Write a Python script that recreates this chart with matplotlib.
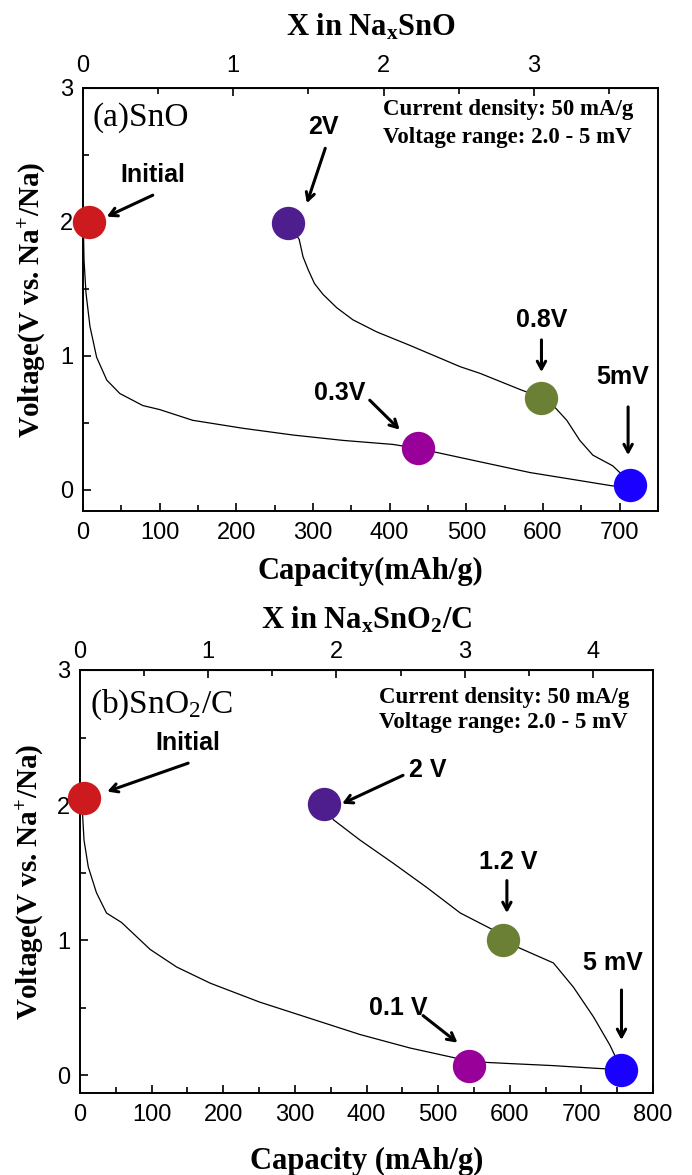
import matplotlib
matplotlib.use("Agg")
import matplotlib.pyplot as plt
from matplotlib.ticker import MultipleLocator

plt.rcParams['font.family'] = ['Liberation Sans', 'DejaVu Sans']
plt.rcParams['mathtext.fontset'] = 'custom'
plt.rcParams['mathtext.default'] = 'regular'

# ---- data ----
# (a) SnO
a_dis_cap = [0.4, 1.3, 3.9, 9.1, 17.8, 31, 48, 78, 100, 143, 209, 274, 339, 404, 437, 518, 583, 648, 691, 713]
a_dis_volt = [2.0, 1.72, 1.47, 1.22, 0.99, 0.82, 0.72, 0.63, 0.60, 0.52, 0.46, 0.41, 0.37, 0.34, 0.31, 0.21, 0.13, 0.07, 0.03, 0.03]
a_chg_cap = [268, 282, 287, 294, 302, 313, 331, 352, 383, 426, 492, 518, 570, 598, 615, 631, 648, 665, 691, 713]
a_chg_volt = [1.99, 1.87, 1.74, 1.64, 1.54, 1.46, 1.36, 1.27, 1.18, 1.08, 0.92, 0.87, 0.75, 0.69, 0.62, 0.52, 0.37, 0.26, 0.18, 0.06]
a_pt_cap = [8, 268, 437, 598, 713]
a_pt_volt = [2.0, 1.99, 0.31, 0.69, 0.04]
a_pt_labels = ['Initial', '2V', '0.3V', '0.8V', '5mV']

# (b) SnO2/C
b_dis_cap = [2.3, 5.6, 11.6, 23, 37, 58, 74, 98, 135, 182, 251, 321, 391, 461, 521, 543, 600, 660, 720, 756]
b_dis_volt = [2.05, 1.74, 1.54, 1.35, 1.20, 1.13, 1.05, 0.93, 0.80, 0.68, 0.54, 0.42, 0.30, 0.20, 0.13, 0.10, 0.085, 0.07, 0.05, 0.04]
b_chg_cap = [340, 354, 391, 437, 484, 531, 575, 591, 614, 661, 689, 717, 740, 756]
b_chg_volt = [2.01, 1.89, 1.74, 1.57, 1.39, 1.20, 1.08, 1.00, 0.94, 0.83, 0.65, 0.43, 0.22, 0.04]
b_pt_cap = [5.6, 340, 543, 591, 756]
b_pt_volt = [2.05, 2.01, 0.07, 1.00, 0.04]
b_pt_labels = ['Initial', '2 V', '0.1 V', '1.2 V', '5 mV']

# capacity of one Na per formula unit (mAh/g)
a_per_na = 196.0
b_per_na = 179.0

pt_colors = ['#CC1A1E', '#4E1E8E', '#990099', '#6B8035', '#1A00FF']

# label positions: (text x, text y, tail x, tail y, head x, head y)
a_notes = [(91, 2.35, 91, 2.20, 31, 2.04),
           (313, 2.71, 316, 2.55, 292, 2.14),
           (335, 0.72, 374, 0.67, 413, 0.45),
           (598, 1.27, 598, 1.12, 598, 0.88),
           (704, 0.84, 711, 0.62, 711, 0.26)]
b_notes = [(151, 2.46, 151, 2.31, 38, 2.10),
           (486, 2.26, 451, 2.22, 366, 2.01),
           (444, 0.50, 479, 0.44, 527, 0.24),
           (598, 1.58, 596, 1.44, 596, 1.20),
           (744, 0.83, 756, 0.63, 756, 0.26)]

serif = 'Liberation Serif'

fig = plt.figure(figsize=(6.92, 11.75), dpi=100)
ax1 = fig.add_axes([83/692, 1-511/1175, 575/692, 423/1175])
ax2 = fig.add_axes([80/692, 1-1093/1175, 573/692, 423/1175])


def panel(ax, dis_c, dis_v, chg_c, chg_v, pc, pv, plabels, notes, per_na,
          xmax, ymin, name, toplabel, xlabel, toppad, titlepad, xl_y, name_y, info_y):
    ax.plot(dis_c, dis_v, color='black', lw=0.9)
    ax.plot(chg_c, chg_v, color='black', lw=0.9)
    for c, v, col in zip(pc, pv, pt_colors):
        ax.plot(c, v, 'o', ms=24, color=col, mec='none', clip_on=False, zorder=5)
    for lab, (tx, ty, sx, sy, hx, hy) in zip(plabels, notes):
        ax.text(tx, ty, lab, ha='center', va='center', fontsize=18, fontweight='bold')
        ax.annotate('', xy=(hx, hy), xytext=(sx, sy),
                    arrowprops=dict(arrowstyle='->,head_length=0.55,head_width=0.3',
                                    lw=2.2, color='black', shrinkA=0, shrinkB=0))
    ax.set_xlim(0, xmax)
    ax.set_ylim(ymin, 3)
    ax.xaxis.set_major_locator(MultipleLocator(100))
    ax.xaxis.set_minor_locator(MultipleLocator(50))
    ax.yaxis.set_major_locator(MultipleLocator(1))
    ax.yaxis.set_minor_locator(MultipleLocator(0.5))
    ax.tick_params(which='both', direction='in', top=False, right=False, width=1.2)
    ax.tick_params(which='major', length=6)
    ax.tick_params(which='minor', length=4)
    ax.tick_params(axis='x', labelsize=17, pad=8)
    ax.tick_params(axis='y', labelsize=17, pad=7)
    for s in ax.spines.values():
        s.set_linewidth(1.4)

    top = ax.secondary_xaxis('top', functions=(lambda c: c / per_na, lambda x: x * per_na))
    top.xaxis.set_major_locator(MultipleLocator(1))
    top.xaxis.set_minor_locator(MultipleLocator(0.5))
    top.tick_params(which='both', direction='in', width=1.2, labelsize=17, pad=toppad)
    top.tick_params(which='major', length=6)
    top.tick_params(which='minor', length=4)
    top.set_xlabel(toplabel, fontfamily=serif, fontweight='bold', fontsize=22,
                   labelpad=titlepad)

    ax.text(0.017, name_y, name, transform=ax.transAxes, fontfamily=serif, fontsize=24,
            ha='left', va='center')
    ax.text(0.522, info_y[0], 'Current density: 50 mA/g', transform=ax.transAxes,
            fontfamily=serif, fontweight='bold', fontsize=16.5, ha='left', va='center')
    ax.text(0.522, info_y[1], 'Voltage range: 2.0 - 5 mV', transform=ax.transAxes,
            fontfamily=serif, fontweight='bold', fontsize=16.5, ha='left', va='center')

    ax.set_xlabel(xlabel, fontfamily=serif, fontweight='bold', fontsize=22)
    ax.xaxis.set_label_coords(0.5, xl_y)
    ax.set_ylabel('Voltage(V vs. Na$^{+}$/Na)', fontfamily=serif, fontweight='bold', fontsize=21)
    ax.yaxis.set_label_coords(-0.06, 0.5)


panel(ax1, a_dis_cap, a_dis_volt, a_chg_cap, a_chg_volt, a_pt_cap, a_pt_volt, a_pt_labels,
      a_notes, a_per_na, 750, -0.157, '(a)SnO', 'X in Na$_{x}$SnO', 'Capacity(mAh/g)',
      8, 14, -0.109, 0.929, (0.948, 0.884))
panel(ax2, b_dis_cap, b_dis_volt, b_chg_cap, b_chg_volt, b_pt_cap, b_pt_volt, b_pt_labels,
      b_notes, b_per_na, 800, -0.133, '(b)SnO$_{2}$/C', 'X in Na$_{x}$SnO$_{2}$/C',
      'Capacity (mAh/g)', 5, 9, -0.128, 0.917, (0.936, 0.875))

fig.savefig('out.png', dpi=100)
